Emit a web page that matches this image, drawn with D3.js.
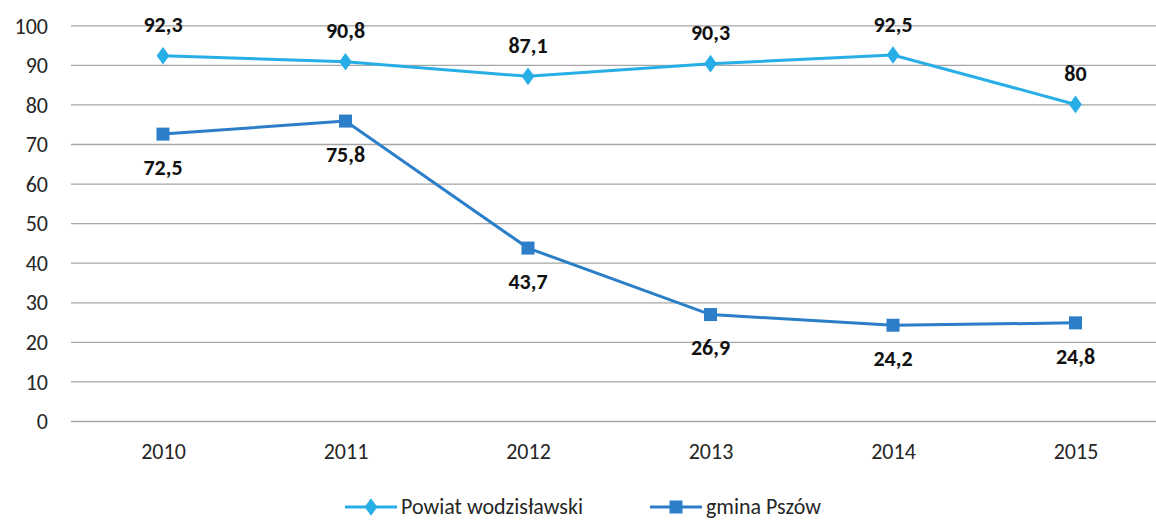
<!DOCTYPE html>
<html><head><meta charset="utf-8">
<script src="https://cdn.jsdelivr.net/npm/d3@7"></script>
<style>body{margin:0;background:#fff;overflow:hidden}svg{display:block}</style>
</head><body><svg id="c" width="1156" height="520"></svg>
<script>
const categories = ["2010","2011","2012","2013","2014","2015"];
const powiat = [92.3, 90.8, 87.1, 90.3, 92.5, 80];
const gmina = [72.5, 75.8, 43.7, 26.9, 24.2, 24.8];
const powiatLabels = ["92,3","90,8","87,1","90,3","92,5","80"];
const gminaLabels = ["72,5","75,8","43,7","26,9","24,2","24,8"];
const yTicks = [0,10,20,30,40,50,60,70,80,90,100];
const seriesNames = ["Powiat wodzisławski","gmina Pszów"];

const font = "Carlito, Lato, 'Open Sans', sans-serif";
const c1 = "#28AEE6", c2 = "#2B7EC7";
const svg = d3.select("#c");
const x = d3.scalePoint().domain(categories).range([163, 1075.5]);
const y = d3.scaleLinear().domain([0,100]).range([421, 25.3]);

const yAxis = svg.append("g").attr("transform","translate(71,0)")
  .call(d3.axisLeft(y).tickValues(yTicks).tickSize(-1100).tickPadding(23));
yAxis.select(".domain").remove();
yAxis.selectAll("line").attr("stroke","#a6a6a6").attr("stroke-width",1.3);
yAxis.selectAll("text").attr("font-family",font).attr("font-size",22).attr("fill","#262626").attr("dy","0.35em");

const xAxis = svg.append("g").attr("transform","translate(0,421)")
  .call(d3.axisBottom(x).tickSize(0).tickPadding(22));
xAxis.select(".domain").remove();
xAxis.selectAll("text").attr("font-family",font).attr("font-size",22).attr("fill","#262626");

const line = d3.line().x((d,i)=>x(categories[i])).y(d=>y(d));
svg.append("path").datum(powiat).attr("d",line).attr("fill","none").attr("stroke",c1).attr("stroke-width",3);
svg.append("path").datum(gmina).attr("d",line).attr("fill","none").attr("stroke",c2).attr("stroke-width",3);

const diamond = d3.symbol().type(d3.symbolDiamond).size(90);
svg.selectAll(".pm").data(powiat).join("path")
  .attr("d",diamond).attr("fill",c1)
  .attr("transform",(d,i)=>`translate(${x(categories[i])},${y(d)}) scale(1.25,1)`);
svg.selectAll(".gm").data(gmina).join("rect")
  .attr("x",(d,i)=>x(categories[i])-6.5).attr("y",d=>y(d)-6.5)
  .attr("width",13).attr("height",13).attr("fill",c2);

svg.selectAll(".pl").data(powiat).join("text")
  .attr("x",(d,i)=>x(categories[i])).attr("y",d=>y(d)-31)
  .attr("dy","0.35em").attr("text-anchor","middle")
  .attr("font-family",font).attr("font-size",22).attr("font-weight","bold").attr("fill","#111")
  .text((d,i)=>powiatLabels[i]);
svg.selectAll(".gl").data(gmina).join("text")
  .attr("x",(d,i)=>x(categories[i])).attr("y",d=>y(d)+33)
  .attr("dy","0.35em").attr("text-anchor","middle")
  .attr("font-family",font).attr("font-size",22).attr("font-weight","bold").attr("fill","#111")
  .text((d,i)=>gminaLabels[i]);

// legend
const leg = [{name:seriesNames[0],color:c1,x:345,type:"d"},{name:seriesNames[1],color:c2,x:650,type:"s"}];
const ly = 507;
leg.forEach(l=>{
  const g = svg.append("g");
  g.append("line").attr("x1",l.x).attr("x2",l.x+52).attr("y1",ly).attr("y2",ly).attr("stroke",l.color).attr("stroke-width",3);
  if(l.type==="d") g.append("path").attr("d",diamond).attr("fill",l.color).attr("transform",`translate(${l.x+26},${ly}) scale(1.25,1)`);
  else g.append("rect").attr("x",l.x+26-6.5).attr("y",ly-6.5).attr("width",13).attr("height",13).attr("fill",l.color);
  g.append("text").attr("x",l.x+56).attr("y",ly).attr("dy","0.33em").attr("font-family",font).attr("font-size",22).attr("fill","#262626").text(l.name);
});
</script></body></html>
